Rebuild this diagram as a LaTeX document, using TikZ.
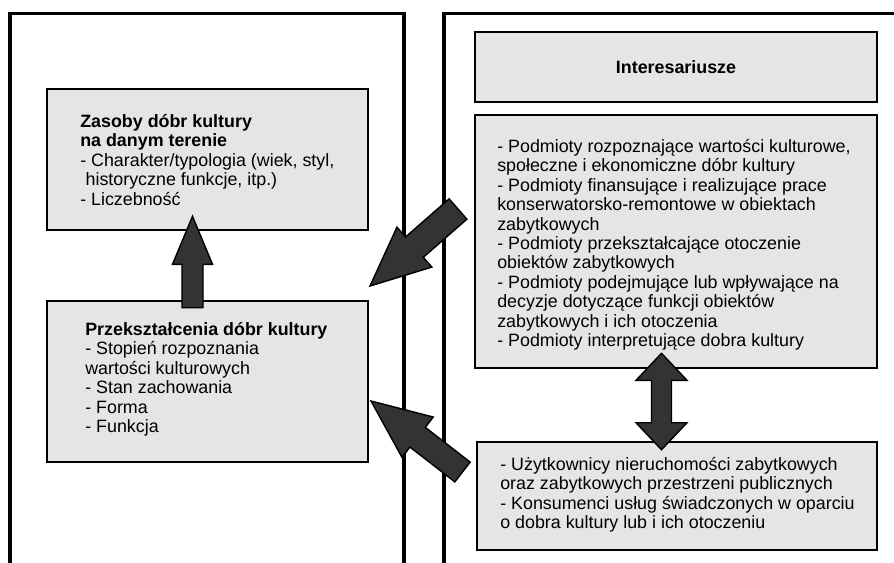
\documentclass[tikz,border=0pt]{standalone}
\usepackage{fontspec}
\setmainfont{Liberation Sans}
\usetikzlibrary{calc}

\tikzset{
    frame/.style={line width=2.3pt, line join=miter},
    box/.style={draw, line width=1.8pt, fill=gray!20},
    txt/.style={align=left, inner sep=0pt, font=\fontsize{12.7}{13.8}\selectfont},
    bigarrow/.style={draw, line width=1pt, fill=black!80, line join=miter}
}

\newcommand{\blockarrow}[5]{
    \coordinate (#1-b) at ($(#2)!#5!(#1)$);
    \draw[bigarrow] ($(#1)!#3!90:(#2)$) -- ($(#1-b)!#3!90:(#2)$) -- ($(#1-b)!#4!90:(#2)$) -- (#2)
        -- ($(#1-b)!#4!-90:(#2)$) -- ($(#1-b)!#3!-90:(#2)$) -- ($(#1)!#3!-90:(#2)$) -- cycle;
}

\begin{document}
\begin{tikzpicture}[x=0.025cm, y=-0.025cm]

\useasboundingbox (0,0) rectangle (894,562);

\draw [frame] (10,570) -- (10,13.5) -- (404,13.5) -- (404,570);
\draw [frame] (444,570) -- (444,13.5) -- (900,13.5);

\node [box, minimum width=8.025cm, minimum height=3.525cm] (zasoby) at (207.5,159.5) {};
\node [box, minimum width=8.025cm, minimum height=4.025cm] (przeks) at (207.5,381.5) {};
\node [box, minimum width=10.05cm, minimum height=1.75cm, txt] (inter) at (676,67) {\textbf{Interesariusze}};
\node [box, minimum width=10.05cm, minimum height=6.325cm] (podmioty) at (676,241.5) {};
\node [box, minimum width=10cm, minimum height=2.7cm] (uzytk) at (677,496) {};

\node [txt, anchor=base west] (zasobyTxt) at (80,205) {\textbf{Zasoby dóbr kultury}\\
    \textbf{na danym terenie}\\
    - Charakter/typologia (wiek, styl,\\
    \hspace*{0.3em}historyczne funkcje, itp.)\\
    - Liczebność};

\node [txt, anchor=base west] (przeksTxt) at (85,432.5) {\textbf{Przekształcenia dóbr kultury}\\
    - Stopień rozpoznania\\
    wartości kulturowych\\
    - Stan zachowania\\
    - Forma\\
    - Funkcja};

\node [txt, anchor=base west] (podmiotyTxt) at (497,346.5) {- Podmioty rozpoznające wartości kulturowe,\\
    społeczne i ekonomiczne dóbr kultury\\
    - Podmioty finansujące i realizujące prace\\
    konserwatorsko-remontowe w obiektach\\
    zabytkowych\\
    - Podmioty przekształcające otoczenie\\
    obiektów zabytkowych\\
    - Podmioty podejmujące lub wpływające na\\
    decyzje dotyczące funkcji obiektów\\
    zabytkowych i ich otoczenia\\
    - Podmioty interpretujące dobra kultury};

\node [txt, anchor=base west] (uzytkTxt) at (500,528.5) {- Użytkownicy nieruchomości zabytkowych\\
    oraz zabytkowych przestrzeni publicznych\\
    - Konsumenci usług świadczonych w oparciu\\
    o dobra kultury lub i ich otoczeniu};

\coordinate (upT) at ($(przeks.north)+(-15,8)$);
\coordinate (upP) at ($(zasoby.south)+(-15,-15)$);
\coordinate (dgT) at (458,209);
\coordinate (dgP) at (370,286);
\coordinate (dhT) at (462.5,472);
\coordinate (dhP) at (371,401);
\coordinate (dbA) at ($(podmioty.south)+(-14.5,-16)$);
\coordinate (dbB) at ($(uzytk.north)+(-15.5,9)$);

\blockarrow{upT}{upP}{0.2625cm}{0.5cm}{1.2cm}
\blockarrow{dgT}{dgP}{0.3375cm}{0.6625cm}{1.475cm}
\blockarrow{dhT}{dhP}{0.3125cm}{0.6375cm}{1.475cm}

\coordinate (dbA-b) at ($(dbA)!0.675cm!(dbB)$);
\coordinate (dbB-b) at ($(dbB)!0.675cm!(dbA)$);
\draw [bigarrow] (dbA) -- ($(dbA-b)!0.6375cm!90:(dbB)$) -- ($(dbA-b)!0.25cm!90:(dbB)$)
    -- ($(dbB-b)!0.25cm!90:(dbB)$) -- ($(dbB-b)!0.6375cm!90:(dbB)$) -- (dbB)
    -- ($(dbB-b)!0.6375cm!-90:(dbB)$) -- ($(dbB-b)!0.25cm!-90:(dbB)$)
    -- ($(dbA-b)!0.25cm!-90:(dbB)$) -- ($(dbA-b)!0.6375cm!-90:(dbB)$) -- cycle;

\end{tikzpicture}
\end{document}
